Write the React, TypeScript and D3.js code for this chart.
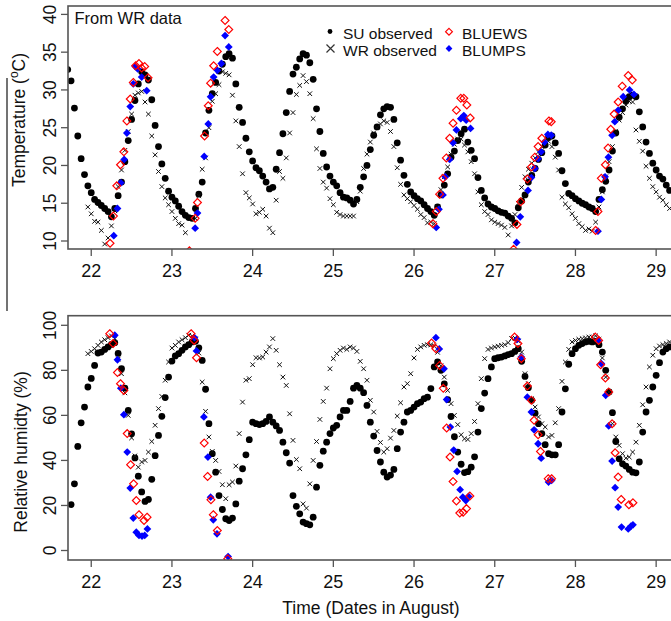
import React from "react";
import * as d3 from "d3";

// Time is stored as hours after 00:00 on 22 August (hourly observations)
const suTempStart = -7;
const suTemp: (number | null)[] = [
  32.7, 31.2, 27.6, 23.9, 20.9, 18.8, 17.3,
  16.4, 15.5, 15.1, 14.7, 14.3, 13.9, 13.2, 14.3, 16.0, 17.8, 20.5, 23.3, 26.1, 28.6, 30.8, 32.4, 32.0, 31.3, 28.7, 25.3, 22.5, 20.2, 18.3, 16.6,
  15.8, 15.3, 14.6, 13.9, 13.4, 13.1, 13.0, 14.3, 16.2, 17.8, 24.3, 27.3, 29.5, 31.0, 32.5, 33.4, 34.4, 34.8, 34.2, 30.8, 27.7, 25.7, 23.6, 21.8,
  20.6, 19.7, 19.3, 18.6, 17.8, 16.9, 17.1, 19.5, 21.7, 24.2, 27.0, 29.8, 32.1, 33.0, 34.1, 34.8, 34.6, 33.6, 31.4, 27.5, 24.5, 21.6, 19.8, 18.6,
  17.8, 17.3, 16.4, 15.8, 15.7, 15.4, 14.9, 15.5, 17.1, 18.5, 20.0, 22.1, 24.0, 25.1, 26.7, 27.5, 27.8, 27.7, 26.1, 23.0, 20.7, 18.7, 17.5, 16.5,
  16.0, 15.6, 15.3, 14.8, 14.3, 13.9, 13.4, 14.5, 16.1, 17.4, 18.9, 21.1, 21.9, 23.3, 24.2, 24.8, 23.1, 22.0, 20.9, 18.4, 16.7, 15.7, 14.9, 14.5,
  14.3, 14.0, 13.8, 13.7, 13.3, 13.0, 12.4, 14.4, 15.3, 16.1, 17.8, 18.7, 19.6, 20.8, 21.7, 22.7, 23.7, 23.9, 23.0, 21.6, 19.3, 17.6, 16.3, 16.0,
  15.6, 15.3, 15.0, 14.8, 14.5, 14.3, 13.9, 15.5, 16.8, 17.9, 19.4, 21.9, 24.3, 26.4, 27.5, 28.5, 29.1, 29.3, 29.1, 27.1, 25.1, 23.1, 21.6, 20.3,
  19.4, 18.6, 18.2, 17.4, 16.7,
];

const wrTempStart = -1;
const wrTemp: (number | null)[] = [
  14.5,
  13.6, 12.6, 12.5, 11.4, 9.6, 10.4, 12.0, 14.0, 17.2, 19.4, 22.0, 24.5, 26.8, 29.3, 29.6, 29.8, 28.4, 26.8, 23.9, 21.4, 19.2, 17.2, 15.7, 14.8,
  13.9, 13.0, 12.3, 12.1, 11.1, null, null, 13.0, 16.0, 19.5, 21.0, 25.0, 28.5, 29.5, 30.7, 32.4, 32.2, 32.0, 29.3, 25.9, 22.5, 18.9, 16.4, 15.7,
  14.9, 13.6, 13.8, 14.2, 13.3, 11.7, 11.1, 15.4, 19.2, 18.3, 21.0, 24.3, 27.0, 29.4, 30.6, 31.9, 31.1, 29.5, 26.2, 22.2, 19.6, 17.8, 17.0, 15.6,
  14.8, 13.8, 13.5, 13.3, 13.3, 13.3, 13.3, 15.2, 16.6, 19.6, 21.5, 23.1, 24.3, 25.0, 25.5, 25.9, 25.7, 24.5, 22.5, 19.7, 17.5, 16.1, 15.6, 15.2,
  14.7, 14.2, 13.5, 13.1, 12.4, 12.5, 12.3, 14.5, 16.8, 18.5, 19.8, 21.5, 22.8, 23.5, 23.5, 22.7, 21.8, 20.5, 18.9, 16.5, 14.8, 13.9, 13.5, 12.8,
  12.5, 12.3, 12.1, 11.8, 10.8, 12.0, 13.5, 15.0, 17.1, 18.5, 19.5, 20.3, 21.0, 21.8, 22.5, 23.0, 23.2, 22.5, 21.1, 19.4, 15.8, 14.9, 14.4, 13.6,
  13.0, 12.3, 11.9, 11.4, 11.6, 11.3, 12.5, 14.5, 16.5, 18.5, 20.5, 22.5, 24.5, 26.0, 27.0, 28.0, 28.5, 28.4, 24.7, 23.2, 21.9, 19.9, 18.3, 17.2,
  16.5, 15.8, 15.4, 14.8, 14.3,
];

const suRhStart = -6;
const suRh: (number | null)[] = [
  20.4, 29.6, 46.2, 56.7, 63.7, 72.6,
  76.4, 82.2, 87.7, 88.1, 89.3, 90.4, 91.5, 92.3, 87.5, 80.7, 72.1, 62.2, 51.8, 41.1, 33.0, 26.0, 21.8, 22.7, 31.6, 42.1, 51.1, 59.6, 67.9, 77.0,
  84.1, 86.4, 87.4, 88.9, 90.4, 91.4, 92.6, 92.9, 90.0, 84.4, 71.6, 56.3, 43.0, 34.8, 24.4, 18.2, 14.1, 13.3, 14.4, 20.7, 30.8, 36.3, 42.5, 49.2,
  57.0, 56.3, 55.9, 56.3, 57.3, 59.3, 57.0, 55.3, 53.3, 48.1, 43.4, 38.8, 24.4, 19.6, 16.3, 12.6, 11.9, 11.4, 14.8, 28.1, 37.8, 44.1, 48.1, 51.9,
  54.4, 55.6, 59.3, 62.2, 62.2, 66.2, 72.1, 73.3, 72.1, 70.1, 64.4, 57.0, 50.8, 44.4, 39.3, 34.8, 32.6, 33.5, 36.0, 45.2, 52.6, 57.0, 61.5, 62.2,
  63.7, 65.2, 65.9, 67.4, 68.1, 71.9, 81.5, 83.7, 80.0, 74.0, 67.0, 59.5, 50.5, 43.7, 38.3, 34.6, 35.0, 37.0, 41.6, 52.6, 63.0, 69.9, 76.3, 81.5,
  85.2, 85.6, 85.9, 86.4, 87.0, 87.4, 88.4, 89.6, 84.0, 77.3, 72.3, 66.7, 61.0, 56.3, 51.9, 47.0, 43.0, 42.5, 42.5, 47.0, 61.5, 71.8, 82.7, 87.4,
  89.6, 91.1, 91.9, 92.6, 92.9, 92.6, 92.9, 91.4, 88.1, 80.0, 70.4, 61.2, 48.4, 40.7, 38.5, 37.5, 36.0, 34.8, 34.5, 39.3, 52.6, 61.5, 66.7, 72.6,
  77.8, 83.4, 88.1, 89.6, 90.4,
];

const wrRhStart = -1;
const wrRh: (number | null)[] = [
  87.4,
  88.4, 89.6, 91.1, 92.6, 93.6, 94.5, 95.3, 94.0, 85.0, 78.5, 70.0, 60.0, 50.0, 42.0, 37.0, 39.3, 40.0, 43.7, 48.4, 55.6, 63.0, 68.4, 75.6, 83.7,
  89.9, 91.1, 92.6, 93.6, 94.5, 95.6, 95.3, 94.0, 87.7, 74.8, 61.8, 50.4, 44.0, 40.0, 35.1, 29.2, 23.0, 29.2, 30.4, 37.5, 51.9, 65.9, 75.6, 76.3,
  82.5, 85.6, 85.5, 85.9, 88.1, 90.4, 94.1, 88.9, 82.5, 77.0, 73.3, 60.7, 48.9, 40.4, 36.3, 20.7, 18.8, 29.6, 40.0, 48.4, 58.2, 66.2, 72.1, 80.7,
  85.2, 87.4, 88.9, 89.9, 89.3, 90.4, 89.9, 88.4, 84.0, 80.7, 75.6, 66.7, 61.5, 52.9, 48.0, 43.7, 45.2, 49.9, 53.3, 59.7, 65.6, 72.6, 74.1, 78.5,
  85.5, 89.3, 90.4, 91.1, 91.4, 91.4, 90.8, 88.0, 82.0, 77.0, 71.1, 65.2, 60.0, 55.9, 51.4, 49.6, 49.3, 51.9, 57.3, 65.2, 76.3, 85.2, 89.3, 89.9,
  90.4, 90.7, 91.1, 91.4, 92.3, 94.1, 94.4, 93.0, 88.1, 78.5, 74.1, 67.4, 63.7, 59.3, 56.3, 54.8, 50.4, 51.1, 56.7, 63.0, 75.1, 83.7, 89.3, 92.6,
  93.3, 93.8, 94.1, 94.4, 94.8, 94.8, 95.3, 93.8, 85.5, 77.0, 70.4, 56.3, 50.4, 46.7, 43.0, 41.0, 41.5, 43.7, 48.1, 55.6, 64.7, 72.6, 81.5, 86.7,
  89.6, 90.8, 91.4, 91.9, 92.6,
];

// Model output: [hour after 22 Aug 00:00, value]
const bluewsTemp = [
  [5.6, 9.7], [6.6, 13.3], [7.6, 17.3], [8.7, 20.1], [9.7, 21.8], [10.6, 25.9], [11.6, 28.8], [12.5, 31.0], [13.2, 33.2], [14.2, 33.5], [15.0, 32.9], [15.9, 33.1], [16.9, 31.6],
  [29.2, 8.7], [30.9, 13.0], [31.6, 15.1], [33.7, 23.9], [34.8, 27.9], [35.5, 30.9], [36.4, 33.2], [37.5, 35.1], [39.8, 39.2], [40.9, 38.0],
  [101.6, 12.3], [102.6, 13.9], [103.6, 16.2], [104.6, 18.3], [105.6, 21.0], [106.6, 23.6], [107.6, 25.6], [108.6, 27.3], [109.9, 28.9], [110.8, 28.9], [111.7, 28.0], [112.7, 26.3],
  [125.6, 8.9], [126.6, 12.2], [127.7, 15.2], [129.7, 18.2], [130.9, 19.8], [131.9, 21.1], [132.9, 22.5], [134.0, 23.6], [136.1, 25.9], [136.8, 25.8],
  [150.0, 11.4], [150.7, 13.9], [151.7, 18.3], [152.9, 20.1], [153.7, 22.3], [154.5, 24.8], [155.5, 26.8], [156.7, 28.4], [157.9, 30.5], [159.7, 31.9], [160.9, 31.3],
];
const blumpsTemp = [
  [6.7, 10.7], [7.8, 14.3], [8.8, 17.7], [9.8, 20.8], [10.6, 24.3], [11.6, 27.8], [12.5, 30.8], [13.1, 33.1], [13.8, 32.8], [15.0, 31.7], [16.5, 29.9],
  [30.9, 11.7], [31.6, 13.7], [33.6, 21.2], [34.8, 25.5], [35.5, 29.1], [36.4, 31.7], [37.5, 32.6], [38.7, 33.5], [39.8, 37.2], [40.9, 35.7],
  [102.6, 11.8], [103.4, 14.2], [104.6, 16.1], [105.3, 18.5], [106.6, 20.8], [107.6, 23.0], [108.6, 24.7], [109.9, 26.2], [110.8, 26.6], [111.5, 26.0], [112.8, 24.9],
  [126.5, 9.8], [127.6, 13.2], [129.9, 16.7], [130.9, 18.4], [131.9, 19.6], [132.9, 20.9], [133.8, 21.8], [134.8, 23.1], [135.8, 24.1], [136.8, 24.0],
  [150.7, 11.3], [151.7, 15.5], [152.8, 18.5], [153.8, 21.1], [154.9, 24.0], [155.7, 25.8], [156.7, 27.3], [158.2, 29.1], [160.1, 30.0], [161.4, 29.4],
];
const bluewsRh = [
  [5.5, 96.3], [6.5, 91.9], [7.8, 79.0], [8.7, 74.1], [9.7, 71.1], [10.7, 51.9], [11.7, 38.1], [12.6, 29.6], [13.4, 22.2], [14.2, 15.9], [15.7, 13.3], [16.6, 14.8],
  [29.7, 96.3], [30.6, 93.3], [31.3, 85.6], [33.6, 47.7], [34.6, 32.9], [35.6, 22.5], [36.3, 15.9], [37.5, 8.9], [40.6, -3.7],
  [101.2, 92.1], [102.5, 89.6], [103.6, 82.2], [104.7, 72.0], [105.7, 54.4], [106.7, 41.5], [107.6, 30.6], [108.6, 22.0], [109.6, 16.6], [110.6, 17.0], [111.6, 18.6], [112.6, 24.2],
  [125.9, 94.8], [126.9, 91.9], [127.9, 85.2], [129.7, 73.0], [130.9, 66.7], [131.7, 57.8], [132.9, 51.4], [133.6, 44.0], [135.9, 31.9], [136.9, 31.9],
  [149.9, 94.8], [150.9, 93.3], [151.5, 82.5], [152.9, 76.6], [153.9, 70.4], [154.9, 56.3], [155.8, 43.4], [156.7, 32.6], [157.6, 22.7], [159.9, 20.3], [161.1, 21.2],
];
const blumpsRh = [
  [7.0, 95.6], [7.8, 84.7], [8.8, 72.1], [9.7, 60.3], [10.7, 43.7], [11.6, 27.7], [12.5, 14.4], [13.4, 8.1], [14.2, 6.7], [15.1, 6.4], [15.9, 6.7], [16.7, 9.6],
  [30.7, 94.5], [31.3, 88.6], [33.5, 59.3], [34.7, 41.5], [35.5, 23.7], [36.3, 13.6], [37.4, 7.4], [40.7, -2.7],
  [102.5, 94.5], [103.5, 89.5], [104.9, 80.7], [105.7, 67.0], [106.8, 54.8], [107.8, 44.6], [108.8, 35.1], [109.7, 27.0], [110.5, 23.7], [111.4, 22.2], [112.2, 24.0],
  [126.7, 93.8], [127.9, 85.9], [129.7, 68.1], [130.9, 61.5], [131.7, 53.6], [132.9, 47.4], [133.8, 41.0], [136.0, 30.4], [136.9, 31.1],
  [150.7, 93.3], [151.7, 83.0], [153.0, 68.9], [153.9, 55.3], [154.9, 39.7], [155.8, 27.9], [156.7, 19.3], [157.7, 10.4], [159.7, 9.6], [160.5, 10.8], [161.1, 11.4],
];

const dayTicks = [22, 23, 24, 25, 26, 27, 28, 29];
const tempTicks = [10, 15, 20, 25, 30, 35, 40];
const rhTicks = [0, 20, 40, 60, 80, 100];

type Pt = { d: number; v: number };
const hourly = (start: number, vals: (number | null)[]): Pt[] =>
  vals.flatMap((v, i) => (v == null ? [] : [{ d: 22 + (start + i) / 24, v }]));
const pairs = (arr: number[][]): Pt[] => arr.map(([h, v]) => ({ d: 22 + h / 24, v }));

const FONT = "'Liberation Sans', Arial, Helvetica, sans-serif";
const BOX = "#555";
const CROSS = "M-2.3,-2.3L2.3,2.3M-2.3,2.3L2.3,-2.3";
const DIAM = "M0,-3.9L3.9,0L0,3.9L-3.9,0Z";

function Panel(props: {
  id: string;
  top: number;
  bottom: number;
  y: d3.ScaleLinear<number, number>;
  yTicks: number[];
  x: d3.ScaleLinear<number, number>;
  su: Pt[];
  wr: Pt[];
  ews: Pt[];
  mps: Pt[];
}) {
  const { id, top, bottom, y, yTicks, x, su, wr, ews, mps } = props;
  const left = 68;
  const right = 700;
  return (
    <g>
      <defs>
        <clipPath id={id}>
          <rect x={left} y={top} width={right - left} height={bottom - top} />
        </clipPath>
      </defs>
      <g clipPath={`url(#${id})`}>
        {su.map((p, i) => (
          <circle key={"s" + i} cx={x(p.d)} cy={y(p.v)} r={3.4} fill="#000" />
        ))}
        {wr.map((p, i) => (
          <path key={"w" + i} d={CROSS} transform={`translate(${x(p.d)},${y(p.v)})`} stroke="#111" strokeWidth={1} fill="none" />
        ))}
        {mps.map((p, i) => (
          <path key={"m" + i} d={DIAM} transform={`translate(${x(p.d)},${y(p.v)})`} fill="#0000ff" />
        ))}
        {ews.map((p, i) => (
          <path key={"e" + i} d={DIAM} transform={`translate(${x(p.d)},${y(p.v)})`} fill="none" stroke="#ff0000" strokeWidth={1.2} />
        ))}
      </g>
      <rect x={left} y={top} width={right - left} height={bottom - top} fill="none" stroke={BOX} strokeWidth={1.6} />
      {yTicks.map((t) => (
        <g key={"yt" + t}>
          <line x1={left} x2={left - 7} y1={y(t)} y2={y(t)} stroke={BOX} strokeWidth={1.3} />
          <text transform={`translate(56,${y(t)}) rotate(-90)`} textAnchor="middle" fontSize={17.5} fill="#111">
            {t}
          </text>
        </g>
      ))}
      {dayTicks.map((t) => (
        <g key={"xt" + t}>
          <line x1={x(t)} x2={x(t)} y1={bottom} y2={bottom + 7} stroke={BOX} strokeWidth={1.3} />
          <text x={x(t)} y={bottom + 27.5} textAnchor="middle" fontSize={18} fill="#111">
            {t}
          </text>
        </g>
      ))}
    </g>
  );
}

export default function App() {
  const x = d3.scaleLinear().domain([21.712, 29.5]).range([68, 696.5]);
  const yT = d3.scaleLinear().domain([10, 40]).range([241, 14.4]);
  const yR = d3.scaleLinear().domain([0, 100]).range([550.5, 325.3]);

  return (
    <svg
      width={671}
      height={621}
      style={{ position: "absolute", left: 0, top: 0, background: "#fff" }}
      fontFamily={FONT}
    >
      <rect x={0} y={0} width={671} height={621} fill="#fff" />
      <line x1={7} x2={7} y1={78} y2={311} stroke="#444" strokeWidth={1.5} />

      <Panel
        id="clipT"
        top={6}
        bottom={249}
        y={yT}
        yTicks={tempTicks}
        x={x}
        su={hourly(suTempStart, suTemp)}
        wr={hourly(wrTempStart, wrTemp)}
        ews={pairs(bluewsTemp)}
        mps={pairs(blumpsTemp)}
      />
      <Panel
        id="clipB"
        top={315.7}
        bottom={560}
        y={yR}
        yTicks={rhTicks}
        x={x}
        su={hourly(suRhStart, suRh)}
        wr={hourly(wrRhStart, wrRh)}
        ews={pairs(bluewsRh)}
        mps={pairs(blumpsRh)}
      />

      {/* annotation */}
      <text x={74.5} y={23.5} fontSize={16.5} fill="#111">From WR data</text>

      {/* legend */}
      <circle cx={330} cy={31.5} r={2.4} fill="#000" />
      <path d="M-4,-4L4,4M-4,4L4,-4" transform="translate(330.5,48.5)" stroke="#333" strokeWidth={1.2} />
      <text x={343} y={38.5} fontSize={15.5} fill="#111">SU observed</text>
      <text x={343} y={56} fontSize={15.5} fill="#111">WR observed</text>
      <path d="M0,-3.4L3.4,0L0,3.4L-3.4,0Z" transform="translate(449,31.7)" fill="none" stroke="#ff0000" strokeWidth={1.2} />
      <path d="M0,-3.4L3.4,0L0,3.4L-3.4,0Z" transform="translate(449,48.5)" fill="#0000ff" />
      <text x={462} y={38.5} fontSize={15.5} fill="#111">BLUEWS</text>
      <text x={462} y={56} fontSize={15.5} fill="#111">BLUMPS</text>

      {/* axis titles */}
      <text transform="translate(25,120) rotate(-90)" textAnchor="middle" fontSize={17.5} fill="#111">
        Temperature (<tspan dy={-7} fontSize={12}>o</tspan>
        <tspan dy={7}>C)</tspan>
      </text>
      <text transform="translate(27,452) rotate(-90)" textAnchor="middle" fontSize={17.5} fill="#111">
        Relative humidty (%)
      </text>
      <text x={371} y={614} textAnchor="middle" fontSize={17.5} fill="#111">
        Time (Dates in August)
      </text>
    </svg>
  );
}
